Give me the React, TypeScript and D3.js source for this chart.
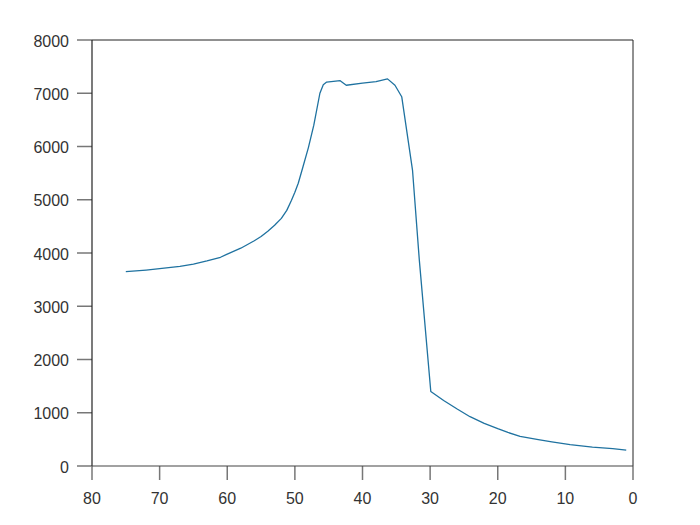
import React from "react";
import * as d3 from "d3";

const xs = [75, 72, 70, 67, 65, 63, 61, 60, 58, 56, 55, 54, 53, 52, 51.2, 50.5, 50, 49.5, 48.8, 48, 47.2, 46.3, 45.8, 45.3, 43.3, 42.4, 40, 38, 36.3, 35.2, 34.2, 32.6, 31.6, 29.9, 28, 26, 24.1, 22, 20, 18.5, 16.7, 14, 12, 9.3, 6, 3, 1];
const ys = [3650, 3680, 3705, 3750, 3790, 3850, 3920, 3980, 4090, 4230, 4310, 4410, 4520, 4650, 4800, 4990, 5140, 5310, 5620, 5980, 6400, 7000, 7160, 7210, 7236, 7150, 7190, 7220, 7270, 7150, 6935, 5550, 3870, 1400, 1230, 1070, 926, 800, 700, 630, 555, 495, 455, 400, 355, 325, 300];
const xTicks = [80, 70, 60, 50, 40, 30, 20, 10, 0];
const yTicks = [0, 1000, 2000, 3000, 4000, 5000, 6000, 7000, 8000];

export default function App() {
  const W = 700, H = 525;
  const left = 92, right = 633, top = 40, bottom = 466;
  const x = d3.scaleLinear().domain([80, 0]).range([left, right]);
  const y = d3.scaleLinear().domain([0, 8000]).range([bottom, top]);
  const pts = xs.map((v, i) => [v, ys[i]] as [number, number]);
  const line = d3.line<[number, number]>().x(d => x(d[0])).y(d => y(d[1])).curve(d3.curveLinear);
  const font = "'Liberation Sans', Arial, sans-serif";
  return (
    <svg width={W} height={H} style={{ position: "absolute", left: 0, top: 0, background: "#fff" }}>
      <rect x={0} y={0} width={W} height={H} fill="#fff" />
      {yTicks.map(t => (
        <g key={"y" + t}>
          <line x1={left - 15} x2={left} y1={y(t)} y2={y(t)} stroke="#777" strokeWidth={1.5} />
          <text x={left - 23} y={y(t)} dy="0.42em" textAnchor="end" fontFamily={font} fontSize={16} fill="#333">{t}</text>
        </g>
      ))}
      {xTicks.map(t => (
        <g key={"x" + t}>
          <line x1={x(t)} x2={x(t)} y1={bottom} y2={bottom + 14} stroke="#777" strokeWidth={1.5} />
          <text x={x(t)} y={bottom + 38} textAnchor="middle" fontFamily={font} fontSize={16} fill="#333">{t}</text>
        </g>
      ))}
      <line x1={left} x2={right} y1={top} y2={top} stroke="#222" strokeWidth={1} />
      <line x1={right} x2={right} y1={top} y2={bottom} stroke="#222" strokeWidth={1} />
      <line x1={left} x2={left} y1={top} y2={bottom} stroke="#222" strokeWidth={1.2} />
      <line x1={left} x2={right} y1={bottom} y2={bottom} stroke="#444" strokeWidth={1.2} />
      <path d={line(pts) || ""} fill="none" stroke="#1f72a0" strokeWidth={1.3} strokeLinejoin="round" />
    </svg>
  );
}
